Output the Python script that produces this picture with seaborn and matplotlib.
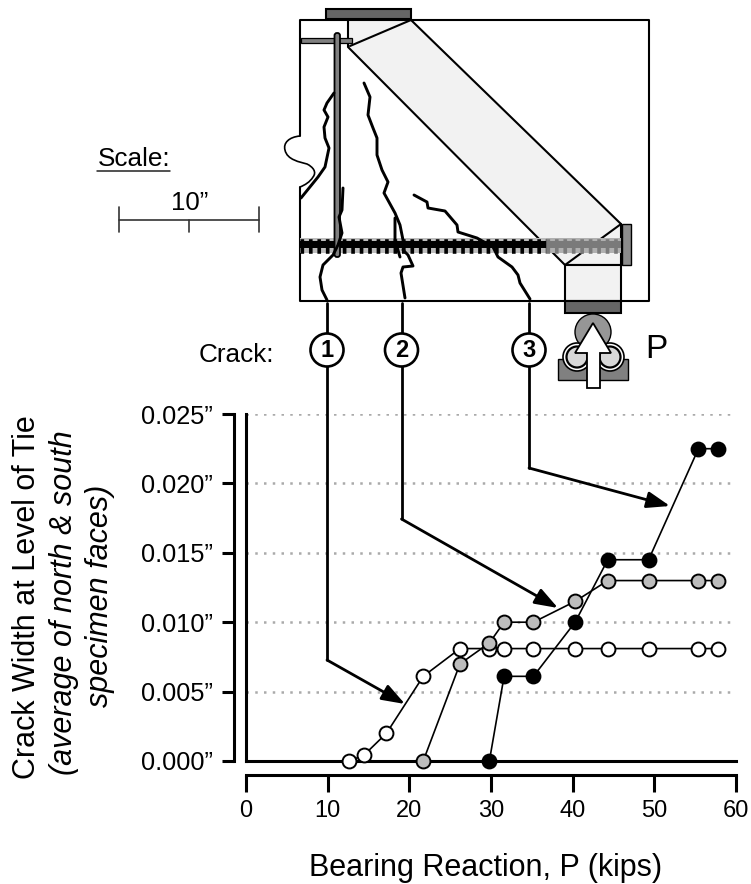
import matplotlib
matplotlib.use("Agg")
import matplotlib.pyplot as plt
from matplotlib.patches import Circle, PathPatch, Polygon, Rectangle, FancyBboxPatch
from matplotlib.path import Path
import seaborn as sns

# --- Chart data ---
load_kips = [12.6, 14.4, 17.2, 21.7, 26.2, 29.8, 31.6, 35.2, 40.3, 44.3, 49.3, 55.4, 57.8]
crack_1 = [0.0, 0.0004, 0.002, 0.0061, 0.0081, 0.0081, 0.0081, 0.0081, 0.0081, 0.0081, 0.0081, 0.0081, 0.0081]
load_2 = [21.7, 26.2, 29.8, 31.6, 35.2, 40.3, 44.3, 49.3, 55.4, 57.8]
crack_2 = [0.0, 0.007, 0.0085, 0.01, 0.01, 0.0115, 0.013, 0.013, 0.013, 0.013]
load_3 = [29.8, 31.6, 35.2, 40.3, 44.3, 49.3, 55.4, 57.8]
crack_3 = [0.0, 0.0061, 0.0061, 0.01, 0.0145, 0.0145, 0.0225, 0.0225]

x_ticks = [0, 10, 20, 30, 40, 50, 60]
y_ticks = [0.0, 0.005, 0.01, 0.015, 0.02, 0.025]
y_tick_labels = ["0.000”", "0.005”", "0.010”", "0.015”", "0.020”", "0.025”"]

W, H = 751, 884
LW = 1.5

sns.set_theme(style="white")
plt.rcParams["font.family"] = ["Liberation Sans", "DejaVu Sans"]
plt.rcParams["text.color"] = "black"
plt.rcParams["xtick.color"] = "black"
plt.rcParams["ytick.color"] = "black"

fig = plt.figure(figsize=(W / 100, H / 100), dpi=100)

# --- Chart axes (pixel box 246..736, 414..761) ---
ax = fig.add_axes([246 / W, 1 - 761 / H, 490 / W, 347 / H])
ax.set_xlim(0, 60)
ax.set_ylim(0, 0.025)
ax.patch.set_alpha(0)

ax.set_yticks(y_ticks)
ax.set_xticks(x_ticks)
ax.tick_params(left=False, bottom=False, labelleft=False, labelbottom=False)
ax.grid(axis="y", color="#aaaaaa", lw=1.8, linestyle=(0, (1, 2.5)))
ax.grid(axis="x", visible=False)
for side in ["top", "right"]:
    ax.spines[side].set_visible(False)
for side in ["left", "bottom"]:
    ax.spines[side].set_linewidth(2.2)
    ax.spines[side].set_color("black")

series = [
    (load_kips, crack_1, "white"),
    (load_2, crack_2, "#bdbdbd"),
    (load_3, crack_3, "black"),
]
for i, (xs, ys, face) in enumerate(series):
    sns.lineplot(x=xs, y=ys, ax=ax, color="black", lw=1.2, marker="o", markersize=10,
                 markerfacecolor=face, markeredgecolor="black", markeredgewidth=1.4,
                 errorbar=None, clip_on=False, zorder=3 + i)

# offset axes below and left of the plot
sec_x = ax.secondary_xaxis(-14 / 347)
sec_x.set_xticks(x_ticks)
sec_x.tick_params(length=12, width=2.2, labelsize=17, pad=6, color="black", bottom=True)
sec_y = ax.secondary_yaxis(-12 / 490)
sec_y.set_yticks(y_ticks, labels=y_tick_labels)
sec_y.tick_params(length=9, width=2.2, labelsize=18.3, pad=6, color="black", left=True)
for sec, side in [(sec_x, "bottom"), (sec_y, "left")]:
    for name, sp in sec.spines.items():
        sp.set_visible(name == side)
    sec.spines[side].set_linewidth(2.2)
    sec.spines[side].set_color("black")

# --- Overlay in pixel coordinates for the specimen sketch ---
ov = fig.add_axes([0, 0, 1, 1], zorder=5)
ov.set_xlim(0, W)
ov.set_ylim(H, 0)
ov.axis("off")
ov.patch.set_alpha(0)


def line(pts, lw=LW, color="black", **kw):
    ov.plot([p[0] for p in pts], [p[1] for p in pts], color=color, lw=lw,
            solid_joinstyle="round", solid_capstyle="round", **kw)


def poly(pts, face, lw=LW, z=2):
    ov.add_patch(Polygon(pts, closed=True, facecolor=face, edgecolor="black", lw=lw, zorder=z))


# axis titles
ov.text(486, 875.7, "Bearing Reaction, P (kips)", fontsize=22, ha="center", va="baseline")
ov.text(35, 597, "Crack Width at Level of Tie", rotation=90, rotation_mode="anchor",
        fontsize=22, ha="center", va="baseline")
ov.text(72, 603, "(average of north & south", rotation=90, rotation_mode="anchor",
        fontsize=22, style="italic", ha="center", va="baseline")
ov.text(108, 596, "specimen faces)", rotation=90, rotation_mode="anchor",
        fontsize=22, style="italic", ha="center", va="baseline")

# specimen outline with the notch on the left edge
verts = [(300, 136), (289, 137), (283, 143), (285, 150), (287, 160), (300, 162), (307, 164),
         (313, 167), (317, 172), (313, 177), (310, 182), (305, 185), (300, 187)]
codes = [Path.MOVETO] + [Path.CURVE4] * 12
ov.add_patch(PathPatch(Path(verts, codes), facecolor="none", edgecolor="black", lw=1.2))
line([(300, 136), (300, 20), (649, 20), (649, 300.5), (300, 300.5), (300, 187)])

# strut and nodes
poly([(348, 20), (411, 20), (621, 224), (621, 265), (565, 265), (348, 47)], "#f2f2f2")
poly([(565, 265), (621, 265), (621, 300.5), (565, 300.5)], "#f2f2f2")
line([(350, 46), (411, 20)])
line([(565, 265), (621, 224)])
poly([(326, 9), (411, 9), (411, 19), (326, 19)], "#666666", z=3)
poly([(565, 301), (621, 301), (621, 313), (565, 313)], "#666666", z=3)
ov.add_patch(Rectangle((622, 224), 9, 41, facecolor="#8c8c8c", edgecolor="black", lw=1.0, zorder=3))

# tie bars: black part up to the strut, grey part inside it
ov.add_patch(Rectangle((300, 238), 246, 15, facecolor="#bdbdbd", edgecolor="none", zorder=3))
ov.add_patch(Rectangle((546, 238), 75, 15, facecolor="#b0b0b0", edgecolor="none", zorder=3))
ov.add_patch(Rectangle((300, 241), 246, 6.5, facecolor="black", edgecolor="none", zorder=4))
ov.add_patch(Rectangle((546, 241), 75, 6.5, facecolor="#7a7a7a", edgecolor="none", zorder=4))
ov.plot([300, 546], [245.5, 245.5], color="black", lw=10.5, linestyle=(0, (0.25, 0.33)),
        dash_capstyle="butt", zorder=4)
ov.plot([546, 621], [245.5, 245.5], color="#7a7a7a", lw=10.5, linestyle=(0, (0.25, 0.33)),
        dash_capstyle="butt", zorder=4)
ov.add_patch(Rectangle((301, 37.5), 51, 5.5, facecolor="#808080", edgecolor="black", lw=0.9, zorder=4))
ov.add_patch(FancyBboxPatch((334.5, 33), 5.5, 224, boxstyle="round,pad=0,rounding_size=2.5",
                            facecolor="#808080", edgecolor="black", lw=1.3, zorder=5))

# cracks
crack_lines = [
    [(334, 93), (327, 103), (324, 110), (328, 117), (324, 127), (325, 138), (329, 148), (325, 167),
     (318, 177), (301, 198)],
    [(343, 188), (342, 210), (339, 217), (342, 233), (338, 245), (333, 255), (323, 265), (320, 277),
     (322, 290), (327, 300)],
    [(364, 83), (370, 97), (368, 115), (373, 128), (377, 138), (377, 155), (382, 170), (388, 182),
     (384, 193), (395, 213), (400, 225), (404, 245), (403, 250), (408, 255), (413, 266), (403, 267),
     (401, 273), (405, 298)],
    [(395, 218), (395, 240), (400, 257)],
    [(414, 195), (427, 202), (428, 208), (445, 211), (457, 225), (458, 232), (477, 238), (493, 247),
     (498, 257), (512, 267), (518, 275), (520, 283), (530, 299)],
]
for c in crack_lines:
    line(c, lw=2.1, zorder=6)

# leaders, circles and arrows
leaders = [
    (327, 660, (405, 704), "1"),
    (401.5, 519, (558, 608), "2"),
    (529, 468, (670, 506), "3"),
]
for x0, y_bend, tip, label in leaders:
    line([(x0, 303), (x0, y_bend)], lw=2.0, zorder=6)
    ov.annotate("", xy=tip, xytext=(x0, y_bend), zorder=6,
                arrowprops=dict(arrowstyle="-|>,head_length=14,head_width=5", mutation_scale=1,
                                color="black", lw=2.0, shrinkA=0, shrinkB=0))
    ov.add_patch(Circle((x0, 350), 16.5, facecolor="white", edgecolor="black", lw=1.9, zorder=7))
    ov.text(x0, 350.5, label, fontsize=17, fontweight="bold", ha="center", va="center", zorder=8)

# load point
ov.add_patch(Rectangle((558, 359), 70, 21, facecolor="#808080", edgecolor="black", lw=1.0, zorder=3))
ov.add_patch(Circle((593, 332), 18, facecolor="#969696", edgecolor="black", lw=1.0, zorder=3))
for cx in [577, 610]:
    ov.add_patch(Circle((cx, 357), 14, facecolor="white", edgecolor="black", lw=1.2, zorder=4))
    ov.add_patch(Circle((cx, 357), 10.5, facecolor="#d8d8d8", edgecolor="black", lw=1.6, zorder=4))
poly([(593, 323), (611, 353), (600, 353), (600, 388), (587, 388), (587, 353), (575, 353)],
     "white", lw=1.3, z=5)
ov.text(645, 350, "P", fontsize=24, ha="left", va="center")

# scale and labels
ov.text(98, 166, "Scale:", fontsize=18.8, ha="left", va="baseline")
line([(97, 171), (170, 171)], lw=1.1, color="#222222")
ov.text(190, 210, "10”", fontsize=18.5, ha="center", va="baseline")
line([(119, 219.5), (259, 219.5)], lw=1.2, color="#333333")
for px, top in [(119, 207), (189, 219.5), (259, 207)]:
    line([(px, top), (px, 232)], lw=1.2, color="#333333")
ov.text(199, 361.5, "Crack:", fontsize=18.8, ha="left", va="baseline")

fig.savefig("out.png", dpi=100)
